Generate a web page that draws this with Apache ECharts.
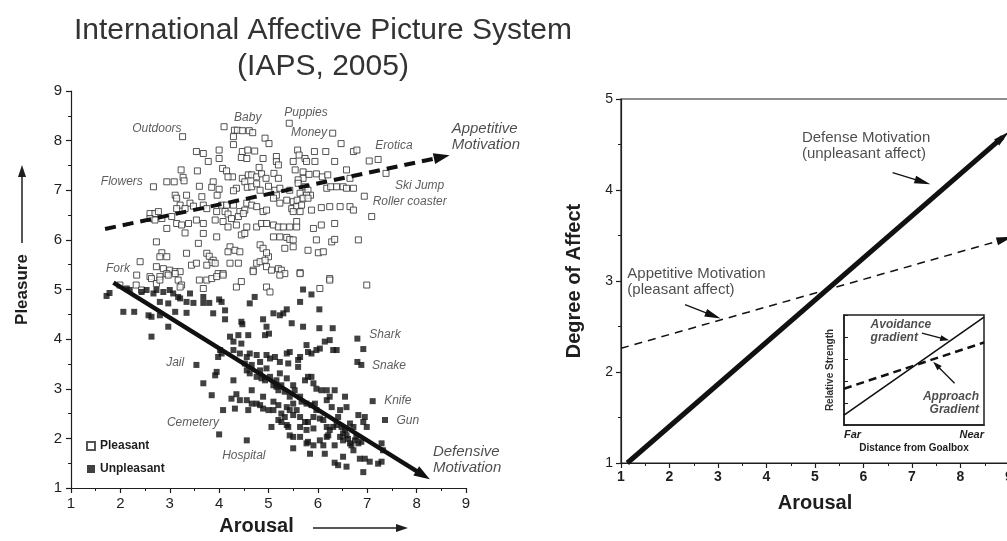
<!DOCTYPE html>
<html>
<head>
<meta charset="utf-8">
<script src="https://cdn.jsdelivr.net/npm/echarts@6/dist/echarts.min.js"></script>
<style>html,body{margin:0;padding:0;background:#fff}#c{width:1007px;height:541px}</style>
</head>
<body>
<div id="c"></div>
<script>
// ---------- DATA ----------
const pleasant = [
[3.26,8.08],[4.10,8.28],[4.31,8.21],[4.37,8.21],[4.47,8.20],[4.61,8.20],[4.68,8.16],[4.29,8.08],[4.29,7.92],[4.93,8.05],
[5.01,7.94],[5.42,8.35],[6.30,8.15],[6.47,7.94],[6.72,7.78],[6.79,7.81],[7.22,7.62],[7.04,7.59],[7.38,7.34],[3.54,7.78],
[3.68,7.74],[4.00,7.81],[4.47,7.78],[4.58,7.81],[4.72,7.79],[4.45,7.66],[4.56,7.64],[4.00,7.64],[3.78,7.58],[4.89,7.64],
[5.16,7.68],[5.16,7.58],[5.20,7.51],[5.59,7.81],[5.62,7.71],[5.93,7.78],[6.16,7.78],[5.50,7.58],[5.74,7.64],[5.77,7.58],
[5.94,7.58],[6.34,7.58],[4.81,7.46],[4.07,7.44],[4.15,7.39],[3.23,7.41],[3.27,7.26],[3.29,7.19],[3.56,7.39],[4.27,7.27],
[4.18,7.27],[4.47,7.24],[4.59,7.31],[4.66,7.31],[4.76,7.27],[4.86,7.33],[4.95,7.24],[5.11,7.34],[5.20,7.24],[5.54,7.41],
[5.70,7.37],[5.70,7.24],[5.60,7.21],[5.82,7.32],[5.97,7.33],[6.09,7.27],[6.20,7.31],[6.58,7.41],[6.65,7.24],[2.94,7.17],
[3.09,7.17],[2.67,7.07],[3.60,7.08],[3.88,7.17],[3.85,7.06],[4.00,7.02],[3.96,6.90],[4.35,7.04],[4.29,6.99],[4.52,7.17],
[4.57,7.06],[4.66,7.07],[4.76,7.13],[4.83,7.00],[5.00,7.08],[5.13,7.00],[5.23,7.04],[5.16,6.90],[5.43,7.00],[5.60,7.14],
[5.74,7.07],[5.80,7.00],[5.85,6.90],[5.64,6.94],[5.77,6.90],[6.18,7.04],[6.26,7.07],[6.38,7.07],[6.51,7.07],[6.58,7.04],
[6.72,7.04],[6.94,6.88],[3.11,6.90],[3.14,6.84],[3.34,6.90],[3.65,6.87],[3.21,6.70],[3.41,6.74],[3.14,6.63],[3.31,6.63],
[3.48,6.68],[3.68,6.70],[3.75,6.63],[4.05,6.70],[4.15,6.70],[3.95,6.57],[4.12,6.57],[4.18,6.52],[4.29,6.70],[4.56,6.74],
[4.66,6.70],[4.42,6.57],[4.52,6.60],[4.76,6.67],[4.89,6.57],[4.96,6.60],[5.10,6.84],[5.23,6.74],[5.37,6.80],[5.50,6.77],
[5.58,6.80],[5.70,6.84],[5.80,6.84],[5.47,6.63],[5.57,6.67],[5.67,6.70],[5.50,6.57],[5.64,6.57],[5.87,6.60],[6.07,6.65],
[6.24,6.67],[6.45,6.67],[6.65,6.67],[6.72,6.60],[7.09,6.47],[2.60,6.53],[2.70,6.53],[2.77,6.57],[2.60,6.43],[2.70,6.40],
[2.84,6.43],[3.04,6.47],[3.14,6.33],[3.24,6.30],[3.38,6.33],[3.54,6.40],[3.68,6.33],[3.92,6.40],[4.08,6.37],[4.25,6.43],
[4.39,6.47],[4.49,6.53],[4.35,6.30],[4.18,6.26],[4.56,6.26],[4.76,6.26],[4.86,6.33],[4.96,6.33],[5.10,6.30],[5.20,6.26],
[5.30,6.26],[5.43,6.26],[5.57,6.37],[5.57,6.26],[5.91,6.23],[6.07,6.30],[6.34,6.33],[2.94,6.23],[3.31,6.14],[3.68,6.13],
[3.95,6.06],[4.45,6.10],[4.52,6.13],[5.10,6.06],[5.23,6.06],[5.37,6.05],[5.43,6.01],[5.50,6.00],[5.97,6.00],[6.28,5.96],
[6.34,6.01],[6.82,6.00],[2.73,5.96],[2.84,5.74],[2.80,5.66],[2.94,5.66],[3.34,5.73],[3.58,5.93],[3.75,5.73],[3.80,5.67],
[3.88,5.59],[3.85,5.54],[4.22,5.86],[4.32,5.79],[4.42,5.76],[4.18,5.76],[4.83,5.90],[4.89,5.83],[5.00,5.66],[4.96,5.74],
[5.33,5.83],[5.50,5.86],[5.80,5.79],[6.01,5.74],[6.11,5.76],[2.40,5.56],[2.33,5.29],[2.73,5.46],[2.87,5.42],[3.00,5.39],
[2.94,5.32],[3.11,5.36],[3.21,5.36],[2.80,5.26],[3.44,5.49],[3.54,5.53],[3.75,5.49],[3.92,5.53],[3.98,5.32],[4.08,5.32],
[4.22,5.53],[4.39,5.53],[4.69,5.39],[4.76,5.53],[4.83,5.56],[4.93,5.59],[4.96,5.46],[5.06,5.39],[5.20,5.42],[5.26,5.39],
[5.33,5.32],[5.64,5.34],[6.24,5.22],[2.60,5.26],[2.63,5.22],[2.73,5.12],[2.80,5.19],[2.97,5.29],[3.11,5.32],[3.17,5.19],
[3.24,5.09],[1.99,5.09],[2.32,5.09],[2.43,4.99],[3.21,5.05],[3.60,5.19],[3.68,5.02],[3.75,5.19],[3.85,5.22],[3.95,5.26],
[4.08,5.29],[4.35,5.05],[4.45,5.16],[4.69,5.36],[4.96,5.05],[5.03,4.95],[5.23,5.29],[5.64,5.32],[6.04,5.02],[6.24,5.19],
[6.99,5.09]
];
const unpleasant = [
[1.72,4.87],[1.78,4.93],[2.06,4.55],[2.28,4.55],[2.57,4.48],[2.63,4.45],[2.63,4.05],[2.43,4.95],[2.53,4.99],[2.73,4.99],
[2.87,4.95],[3.00,4.99],[3.07,4.92],[2.80,4.75],[2.97,4.72],[3.17,4.85],[3.34,4.75],[3.48,4.73],[2.80,4.48],[2.97,4.25],
[3.11,4.55],[3.34,4.53],[3.68,4.73],[3.80,4.73],[4.00,4.80],[4.05,4.75],[3.88,4.52],[4.12,4.58],[4.12,4.40],[4.45,4.35],
[4.47,4.30],[4.62,4.72],[4.72,4.85],[4.89,4.40],[4.96,4.25],[4.93,4.08],[5.01,4.11],[5.10,4.52],[5.23,4.48],[5.30,4.52],
[5.37,4.60],[5.47,4.32],[5.70,4.25],[5.64,4.75],[5.70,5.00],[5.87,4.90],[6.03,4.60],[6.03,4.22],[6.30,4.22],[6.80,4.01],
[6.92,3.80],[6.80,3.54],[6.88,3.48],[3.54,3.48],[3.68,3.11],[3.85,2.87],[3.92,3.27],[3.95,3.34],[4.29,3.17],[4.25,2.80],
[4.35,2.89],[4.32,2.60],[4.42,2.77],[4.56,2.77],[4.08,2.57],[4.00,2.08],[4.56,1.96],[4.22,4.05],[4.29,3.95],[4.39,4.08],
[4.45,3.91],[4.59,4.08],[4.62,3.71],[4.56,3.64],[4.52,3.51],[4.66,3.48],[4.76,3.68],[4.83,3.54],[4.66,2.97],[4.89,2.84],
[4.83,2.67],[4.89,2.60],[5.00,2.57],[5.06,2.23],[4.96,3.68],[5.03,3.61],[5.13,3.64],[5.23,3.54],[5.37,3.71],[5.40,3.51],
[5.43,3.74],[4.86,3.21],[4.93,3.17],[5.03,3.24],[5.10,3.07],[5.16,3.17],[5.23,3.31],[5.37,3.21],[5.20,2.97],[5.33,2.94],
[5.43,2.84],[5.50,2.70],[5.37,2.63],[5.43,2.57],[5.50,2.47],[5.57,2.57],[5.10,2.74],[5.20,2.67],[5.26,2.50],[5.33,2.43],
[5.40,2.23],[5.43,2.06],[5.50,2.03],[5.64,2.03],[5.50,1.80],[5.60,3.58],[5.60,3.44],[5.64,3.64],[5.77,3.88],[5.80,3.74],
[5.87,3.71],[5.97,3.78],[5.74,3.17],[5.80,3.24],[5.87,3.24],[5.91,3.11],[5.97,3.00],[6.07,2.97],[6.18,2.97],[6.34,2.97],
[5.64,2.43],[5.74,2.33],[5.80,2.33],[5.91,2.43],[5.91,2.20],[5.97,2.57],[6.04,2.40],[5.77,1.90],[5.80,1.93],[5.84,1.69],
[5.91,1.86],[6.11,1.86],[6.14,1.69],[6.21,2.06],[6.04,3.81],[6.14,3.95],[6.24,3.98],[6.31,3.78],[6.38,3.78],[6.18,2.77],
[6.24,2.84],[6.28,2.63],[6.41,2.43],[6.45,2.57],[6.55,2.84],[6.58,2.63],[6.34,1.86],[6.34,1.51],[6.41,1.46],[6.51,1.63],
[6.58,1.43],[6.55,2.17],[6.58,2.06],[6.65,2.30],[6.72,2.23],[6.78,2.03],[6.68,1.86],[6.82,1.90],[6.88,1.93],[6.82,2.47],
[6.95,2.43],[6.99,2.23],[6.92,2.33],[6.85,1.59],[6.95,1.59],[7.05,1.53],[6.92,1.32],[7.22,1.49],[7.29,1.53],[7.29,1.90],
[7.32,1.76],[7.11,2.75],[7.36,2.37],[6.38,2.27],[6.48,2.23],[6.51,2.10],[4.59,2.57],[4.66,2.70],[4.76,2.70],[4.56,3.37],
[4.62,3.31],[4.76,3.24],[4.83,3.37],[4.96,3.41],[5.16,3.04],[5.26,3.07],[5.50,3.07],[5.53,2.97],[5.64,2.84],[5.67,2.74],
[5.77,2.70],[5.87,2.67],[5.94,2.70],[6.11,2.37],[6.18,2.23],[6.24,2.17],[6.31,2.23],[6.18,2.03],[6.04,1.96],[6.45,2.03],
[6.51,1.96],[6.61,1.99],[6.65,1.90],[6.72,1.76],[6.75,1.96],[5.10,2.57],[5.20,2.37],[5.26,2.33],[5.37,2.27],[5.64,2.23],
[5.77,2.17],[4.29,3.78],[4.42,3.71],[4.02,3.78],[3.98,3.64],[4.05,3.71],[3.68,4.85],[3.41,4.92],[3.21,4.82],[2.67,4.92],
[2.13,5.02],[2.19,4.99]
];
// left-panel picture labels (name, x, y in Arousal/Pleasure units)
const picNames = ['Outdoors','Baby','Puppies','Money','Erotica','Flowers','Ski Jump','Roller coaster','Fork','Shark','Jail','Snake','Knife','Gun','Cemetery','Hospital'];
const picX = [2.74,4.58,5.76,5.82,7.54,2.03,8.06,7.86,1.95,7.36,3.11,7.44,7.62,7.82,3.47,4.50];
const picY = [8.25,8.46,8.56,8.17,7.89,7.17,7.10,6.78,5.43,4.10,3.52,3.46,2.77,2.35,2.31,1.66];
// motivation vectors
const appetitiveVecL = [[1.69,6.22],[8.51,7.67]];
const defensiveVecL  = [[1.86,5.14],[8.13,1.26]];
const motivNames = ['Appetitive\nMotivation','Defensive\nMotivation'];
const motivX = [8.71,8.33];
const motivY = [8.07,1.56];
// right panel
const defenseLineR    = [[1.13,1.00],[8.87,4.58]];
const appetitiveLineR = [[1.00,2.26],[8.91,3.46]];
const rightNotes  = ['Defense Motivation\n(unpleasant affect)','Appetitive Motivation\n(pleasant affect)'];
const rightNoteX  = [4.73,1.13];
const rightNoteY  = [4.49,2.99];
const rightNoteArrows = [[[6.60,4.19],[7.22,4.09]],[[2.32,2.74],[2.90,2.62]]];
// inset (0..1 units)
const insetAvoidance = [[0,0.09],[1,0.98]];
const insetApproach  = [[0,0.33],[1,0.75]];
const insetNotes = ['Avoidance\ngradient','Approach\nGradient'];
const insetNoteX = [0.19,0.964];
const insetNoteY = [0.85,0.20];
const insetNoteArrows = [[[0.557,0.836],[0.72,0.78]],[[0.79,0.38],[0.66,0.545]]];
const xTicksL = [1,9], yTicksL = [1,9], xTicksR = [1,9], yTicksR = [1,5];

// ---------- CHART ----------
const FF = "'Liberation Sans', Arial, Helvetica, sans-serif";
const INK = '#1e1e1e';
const chart = echarts.init(document.getElementById('c'), null, {renderer:'canvas'});
const axisCommon = (extra) => Object.assign({
  type:'value', splitLine:{show:false},
  axisLine:{show:true,onZero:false,lineStyle:{color:INK,width:1.2}},
  axisTick:{show:true,length:5,lineStyle:{color:INK,width:1.2}},
  minorTick:{show:true,splitNumber:2,length:3,lineStyle:{color:INK,width:1}},
  axisLabel:{color:INK,fontFamily:FF},
  nameLocation:'middle'
}, extra);

const option = {
  animation:false,
  backgroundColor:'#fff',
  textStyle:{fontFamily:FF},
  legend:{
    data:['Pleasant','Unpleasant'], orient:'vertical', left:81, top:435,
    itemWidth:8, itemHeight:8, itemGap:11, icon:'rect',
    textStyle:{fontFamily:FF,fontWeight:'bold',fontSize:12,color:INK}
  },
  grid:[
    {left:71, top:91, width:395, height:397, outerBoundsMode:'none', containLabel:false},
    {left:621, top:99, width:388, height:364, show:true, borderColor:INK, borderWidth:1.2, outerBoundsMode:'none', containLabel:false},
    {left:844, top:315, width:140, height:110, show:true, borderColor:INK, borderWidth:1.5, backgroundColor:'#fff', z:5, outerBoundsMode:'none', containLabel:false}
  ],
  xAxis:[
    axisCommon({gridIndex:0,min:xTicksL[0],max:xTicksL[1],interval:1,
      axisLabel:{fontSize:15,color:INK,fontFamily:FF,margin:8},
      name:'Arousal',nameGap:28,nameTextStyle:{fontSize:20,fontWeight:'bold',color:INK,fontFamily:FF,padding:[0,24,0,0]}}),
    axisCommon({gridIndex:1,min:xTicksR[0],max:xTicksR[1],interval:1,
      axisLabel:{fontSize:14,fontWeight:'bold',color:INK,fontFamily:FF,margin:7},
      name:'Arousal',nameGap:30,nameTextStyle:{fontSize:20,fontWeight:'bold',color:INK,fontFamily:FF}}),
    {gridIndex:2,type:'value',min:0,max:1,interval:1,z:6,splitLine:{show:false},
      axisLine:{show:true,onZero:false,lineStyle:{color:INK,width:1.5}},axisTick:{show:false},
      axisLabel:{formatter:v=>v===0?'Far':'Near',alignMinLabel:'left',alignMaxLabel:'right',
        fontSize:11,fontWeight:'bold',fontStyle:'italic',color:INK,fontFamily:FF,margin:4},
      name:'Distance from Goalbox',nameLocation:'middle',nameGap:18,
      nameTextStyle:{fontSize:10,fontWeight:'bold',color:INK,fontFamily:FF}}
  ],
  yAxis:[
    axisCommon({gridIndex:0,min:yTicksL[0],max:yTicksL[1],interval:1,
      axisLabel:{fontSize:15,color:INK,fontFamily:FF,margin:9},
      name:'Pleasure',nameGap:40,nameTextStyle:{fontSize:17,fontWeight:'bold',color:INK,fontFamily:FF}}),
    axisCommon({gridIndex:1,min:yTicksR[0],max:yTicksR[1],interval:1,
      axisLabel:{fontSize:14,color:INK,fontFamily:FF,margin:8},
      name:'Degree of Affect',nameGap:37,nameTextStyle:{fontSize:20,fontWeight:'bold',color:INK,fontFamily:FF}}),
    {gridIndex:2,type:'value',min:0,max:1,interval:0.2,z:6,splitLine:{show:false},
      axisLine:{show:true,onZero:false,lineStyle:{color:INK,width:1.5}},
      axisTick:{show:true,inside:true,length:4,lineStyle:{color:INK}},axisLabel:{show:false},
      name:'Relative Strength',nameLocation:'middle',nameGap:9,
      nameTextStyle:{fontSize:10,fontWeight:'bold',color:'#333',fontFamily:FF}}
  ],
  graphic:[
    {type:'text',z:10,x:323,y:13,style:{text:'International Affective Picture System\n(IAPS, 2005)',
      fontSize:30,lineHeight:36,fontFamily:FF,fill:'#333',align:'center'}},
    // axis-name arrows (decoration)
    {type:'line',shape:{x1:22,y1:243,x2:22,y2:176},style:{stroke:INK,lineWidth:1.5}},
    {type:'polygon',shape:{points:[[18,177],[22,165],[26,177]]},style:{fill:INK}},
    {type:'line',shape:{x1:313,y1:528,x2:397,y2:528},style:{stroke:INK,lineWidth:1.5}},
    {type:'polygon',shape:{points:[[396,524],[408,528],[396,532]]},style:{fill:INK}}
  ],
  series:[
    {name:'Pleasant',type:'scatter',xAxisIndex:0,yAxisIndex:0,symbol:'rect',symbolSize:6,silent:true,
      itemStyle:{color:'#fff',borderColor:'#2a2a2a',borderWidth:1},data:pleasant,z:3},
    {name:'Unpleasant',type:'scatter',xAxisIndex:0,yAxisIndex:0,symbol:'rect',symbolSize:6,silent:true,
      itemStyle:{color:'#111'},data:unpleasant,z:3},
    {type:'line',xAxisIndex:0,yAxisIndex:0,data:[],silent:true,z:4,
      markLine:{silent:true,symbol:['none','triangle'],symbolSize:[11,16],label:{show:false},animation:false,
        data:[
          [{coord:appetitiveVecL[0],lineStyle:{type:[11,7],width:4,color:'#111'}},{coord:appetitiveVecL[1]}],
          [{coord:defensiveVecL[0],lineStyle:{type:'solid',width:4.5,color:'#111'}},{coord:defensiveVecL[1]}]
        ]}},
    {type:'scatter',xAxisIndex:0,yAxisIndex:0,symbolSize:0,silent:true,clip:false,z:5,
      data:picNames.map((n,i)=>({name:n,value:[picX[i],picY[i]]})),
      label:{show:true,position:'inside',formatter:'{b}',fontSize:12,fontStyle:'italic',color:'#333',fontFamily:FF}},
    {type:'scatter',xAxisIndex:0,yAxisIndex:0,symbolSize:0,silent:true,clip:false,z:5,
      data:motivNames.map((n,i)=>({name:n,value:[motivX[i],motivY[i]]})),
      label:{show:true,position:'inside',align:'left',formatter:'{b}',fontSize:15,lineHeight:16,fontStyle:'italic',color:INK,fontFamily:FF}},
    // right panel
    {type:'line',xAxisIndex:1,yAxisIndex:1,data:[],silent:true,z:4,
      markLine:{silent:true,label:{show:false},animation:false,symbol:['none','triangle'],
        data:[
          [{coord:defenseLineR[0],lineStyle:{type:'solid',width:5,color:'#111'},symbolSize:[12,16]},{coord:defenseLineR[1]}],
          [{coord:appetitiveLineR[0],lineStyle:{type:[8,6],width:1.5,color:'#111'},symbolSize:[8,10]},{coord:appetitiveLineR[1]}],
          ...rightNoteArrows.map(a=>[{coord:a[0],lineStyle:{type:'solid',width:1.3,color:'#111'},symbolSize:[6,9]},{coord:a[1]}])
        ]}},
    {type:'scatter',xAxisIndex:1,yAxisIndex:1,symbolSize:0,silent:true,clip:false,z:5,
      data:rightNotes.map((n,i)=>({name:n,value:[rightNoteX[i],rightNoteY[i]]})),
      label:{show:true,position:'inside',align:'left',formatter:'{b}',fontSize:15,lineHeight:16,color:INK,fontFamily:FF}},
    // inset
    {type:'line',xAxisIndex:2,yAxisIndex:2,data:insetAvoidance,symbol:'none',silent:true,z:7,
      lineStyle:{color:'#111',width:1.6}},
    {type:'line',xAxisIndex:2,yAxisIndex:2,data:insetApproach,symbol:'none',silent:true,z:7,
      lineStyle:{color:'#111',width:2.5,type:[8,5]}},
    {type:'line',xAxisIndex:2,yAxisIndex:2,data:[],silent:true,z:7,
      markLine:{silent:true,label:{show:false},animation:false,symbol:['none','triangle'],symbolSize:[6,9],
        lineStyle:{type:'solid',width:1.3,color:'#111'},
        data:insetNoteArrows.map(a=>[{coord:a[0]},{coord:a[1]}])}},
    {type:'scatter',xAxisIndex:2,yAxisIndex:2,symbolSize:0,silent:true,clip:false,z:8,
      data:insetNotes.map((n,i)=>({name:n,value:[insetNoteX[i],insetNoteY[i]],
        label:{align:i===0?'left':'right'}})),
      label:{show:true,position:'inside',formatter:'{b}',fontSize:12,lineHeight:13,fontWeight:'bold',fontStyle:'italic',color:INK,fontFamily:FF}}
  ]
};
chart.setOption(option);
</script>
</body>
</html>
